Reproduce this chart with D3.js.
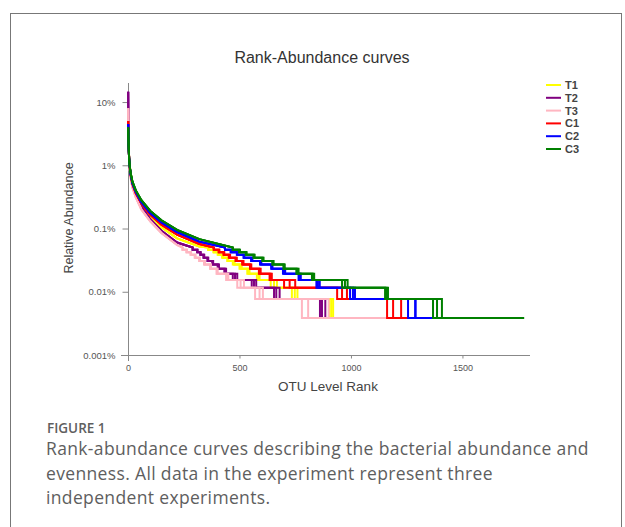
<!DOCTYPE html>
<html lang="en">
<head>
<meta charset="UTF-8">
<title>Rank-Abundance curves</title>
<script src="https://d3js.org/d3.v7.min.js"></script>
<style>
  body { margin: 0; background: #fff; }
  svg text { font-family: "Liberation Sans", Arial, sans-serif; }
  .caption text { font-family: "Open Sans", "Noto Sans", sans-serif; fill: #5e5e5e; }
</style>
</head>
<body>
<svg id="fig" width="625" height="527"></svg>
<script>
// ---- data ----
var groups = ["T1", "T2", "T3", "C1", "C2", "C3"];
var colors = ["#ffff00", "#800080", "#ffb6c1", "#ff0000", "#0000ff", "#008000"];
var depth = 26000; // reads per sample (singletons sit at ~0.0038%)

// head of each curve: relative abundance (%) at these ranks
var headRanks = [1, 2, 3, 5, 8, 12, 20, 35, 60, 100, 150, 220, 320];
var headT1 = [6.0, 3.0, 2.0, 1.35, 0.97, 0.74, 0.53, 0.37, 0.25, 0.16, 0.105, 0.07, 0.052];
var headT2 = [14.5, 4.0, 2.2, 1.3, 0.9, 0.68, 0.47, 0.33, 0.22, 0.14, 0.092, 0.06, 0.045];
var headT3 = [8.0, 3.2, 2.0, 1.25, 0.85, 0.63, 0.44, 0.31, 0.2, 0.13, 0.085, 0.055, 0.04];
var headC1 = [5.0, 2.8, 1.9, 1.3, 0.92, 0.7, 0.5, 0.36, 0.25, 0.165, 0.115, 0.08, 0.057];
var headC2 = [4.5, 2.7, 1.9, 1.3, 0.95, 0.72, 0.52, 0.38, 0.26, 0.175, 0.125, 0.088, 0.062];
var headC3 = [4.0, 2.6, 1.9, 1.3, 0.95, 0.75, 0.55, 0.40, 0.28, 0.19, 0.135, 0.095, 0.068];
// last rank holding 13 reads
var headEnd = [360, 290, 245, 385, 435, 470];

// tail: last rank holding >= k reads, k = 1..12, three replicates per group
var tailT1 = [[1160, 920, 760, 668, 590, 545, 510, 478, 450, 427, 406, 386],
              [1120, 912, 748, 655, 585, 540, 505, 475, 448, 425, 405, 385],
              [1080, 904, 735, 640, 578, 535, 500, 470, 445, 422, 402, 383]];
var tailT2 = [[1080, 885, 680, 575, 490, 440, 408, 382, 360, 342, 326, 312],
              [1040, 870, 665, 565, 480, 436, 405, 380, 358, 340, 325, 311],
              [1000, 861, 655, 555, 470, 432, 402, 378, 356, 338, 324, 310]];
var tailT3 = [[1160, 900, 605, 520, 450, 402, 372, 345, 323, 303, 283, 264],
              [1120, 808, 590, 505, 445, 400, 370, 343, 321, 301, 282, 263],
              [1060, 780, 570, 490, 440, 397, 368, 341, 319, 299, 280, 262]];
var tailC1 = [[1600, 1225, 982, 750, 645, 595, 553, 518, 488, 458, 432, 410],
              [1560, 1189, 960, 725, 640, 590, 550, 515, 485, 455, 430, 408],
              [1500, 1162, 938, 700, 635, 587, 547, 512, 482, 452, 428, 406]];
var tailC2 = [[1690, 1290, 1018, 860, 775, 705, 648, 598, 558, 522, 492, 464],
              [1620, 1288, 1009, 852, 770, 700, 645, 595, 555, 520, 490, 462],
              [1560, 1256, 996, 845, 765, 695, 642, 592, 552, 518, 488, 460]];
var tailC3 = [[1777, 1408, 1166, 985, 835, 765, 703, 653, 608, 568, 532, 502],
              [1700, 1386, 1160, 973, 830, 760, 700, 650, 605, 565, 530, 500],
              [1640, 1368, 1153, 960, 825, 755, 697, 647, 602, 562, 528, 498]];

var yTicks = [0.001, 0.01, 0.1, 1, 10];
var yTickLabels = ["0.001%", "0.01%", "0.1%", "1%", "10%"];
var xTicks = [0, 500, 1000, 1500];

var heads = [headT1, headT2, headT3, headC1, headC2, headC3];
var tails = [tailT1, tailT2, tailT3, tailC1, tailC2, tailC3];

// ---- drawing ----
var svg = d3.select("#fig");

// figure frame
svg.append("rect")
    .attr("x", 10.5).attr("y", 13.5)
    .attr("width", 611).attr("height", 530)
    .attr("fill", "none").attr("stroke", "#777").attr("stroke-width", 1);

var x = d3.scaleLinear().domain([0, 1803]).range([128, 530]);
var y = d3.scaleLog().domain([0.001, 20]).range([355, 83]);

var axisColor = "#888";
var g = svg.append("g");

// y axis
var yAxis = g.append("g").attr("transform", "translate(128.5,0)")
    .call(d3.axisLeft(y).tickValues(yTicks).tickSize(6).tickSizeOuter(0)
        .tickFormat(function (d, i) { return yTickLabels[i]; }));
yAxis.select(".domain").attr("d", "M0,83V361").attr("stroke", axisColor);
yAxis.selectAll(".tick line").attr("stroke", axisColor);
yAxis.selectAll(".tick text").attr("fill", "#555").attr("font-size", 9.5)
    .attr("font-family", "Liberation Sans, Arial, sans-serif").attr("x", -13);

// x axis
var xAxis = g.append("g").attr("transform", "translate(0,355.5)")
    .call(d3.axisBottom(x).tickValues(xTicks).tickSize(3).tickSizeOuter(0)
        .tickFormat(d3.format("d")));
xAxis.select(".domain").attr("d", "M121,0H530").attr("stroke", axisColor);
xAxis.selectAll(".tick line").attr("stroke", axisColor);
xAxis.selectAll(".tick text").attr("fill", "#555").attr("font-size", 9)
    .attr("font-family", "Liberation Sans, Arial, sans-serif").attr("y", 9);

// titles
svg.append("text").attr("x", 322).attr("y", 63).attr("text-anchor", "middle")
    .attr("font-size", 16).attr("fill", "#333").text("Rank-Abundance curves");
svg.append("text").attr("x", 328).attr("y", 391).attr("text-anchor", "middle")
    .attr("font-size", 13.5).attr("fill", "#444").text("OTU Level Rank");
svg.append("text").attr("transform", "translate(72.5,218) rotate(-90)")
    .attr("text-anchor", "middle").attr("font-size", 12.5).attr("fill", "#444")
    .text("Relative Abundance");

// build vertices of one replicate curve
function pct(k) { return k / depth * 100; }
function curvePoints(head, endRank, tail) {
    var pts = [];
    headRanks.forEach(function (r, i) {
        if (head[i] > pct(13) && r < endRank) pts.push([r, head[i]]);
    });
    pts.push([endRank, pct(13)]);
    var start = endRank;
    for (var k = 12; k >= 1; k--) {
        pts.push([start, pct(k)]);
        pts.push([tail[k - 1], pct(k)]);
        start = tail[k - 1];
    }
    return pts;
}

var line = d3.line().x(function (d) { return x(d[0]); }).y(function (d) { return y(d[1]); });

var curves = g.append("g");
groups.forEach(function (name, gi) {
    tails[gi].forEach(function (rep) {
        curves.append("path")
            .datum(curvePoints(heads[gi], headEnd[gi], rep))
            .attr("d", line)
            .attr("fill", "none")
            .attr("stroke", colors[gi])
            .attr("stroke-width", 2)
            .attr("stroke-linejoin", "miter");
    });
});

// legend
var legend = svg.append("g").attr("transform", "translate(546,85)");
groups.forEach(function (name, i) {
    var row = legend.append("g").attr("transform", "translate(0," + (i * 12.8) + ")");
    row.append("line").attr("x1", 0).attr("x2", 15).attr("y1", 0).attr("y2", 0)
        .attr("stroke", colors[i]).attr("stroke-width", 2);
    row.append("text").attr("x", 19).attr("y", 4).attr("font-size", 11)
        .attr("font-weight", "bold").attr("fill", "#444").text(name);
});

// caption
var cap = svg.append("g").attr("class", "caption");
cap.append("text").attr("x", 47).attr("y", 433).attr("font-size", 13.5)
    .attr("font-weight", "600").text("FIGURE 1");
var capLines = ["Rank-abundance curves describing the bacterial abundance and",
    "evenness. All data in the experiment represent three",
    "independent experiments."];
capLines.forEach(function (t, i) {
    cap.append("text").attr("x", 46).attr("y", 455 + i * 24.5)
        .attr("font-size", 17.5).attr("letter-spacing", 0.35).text(t);
});
</script>
</body>
</html>
